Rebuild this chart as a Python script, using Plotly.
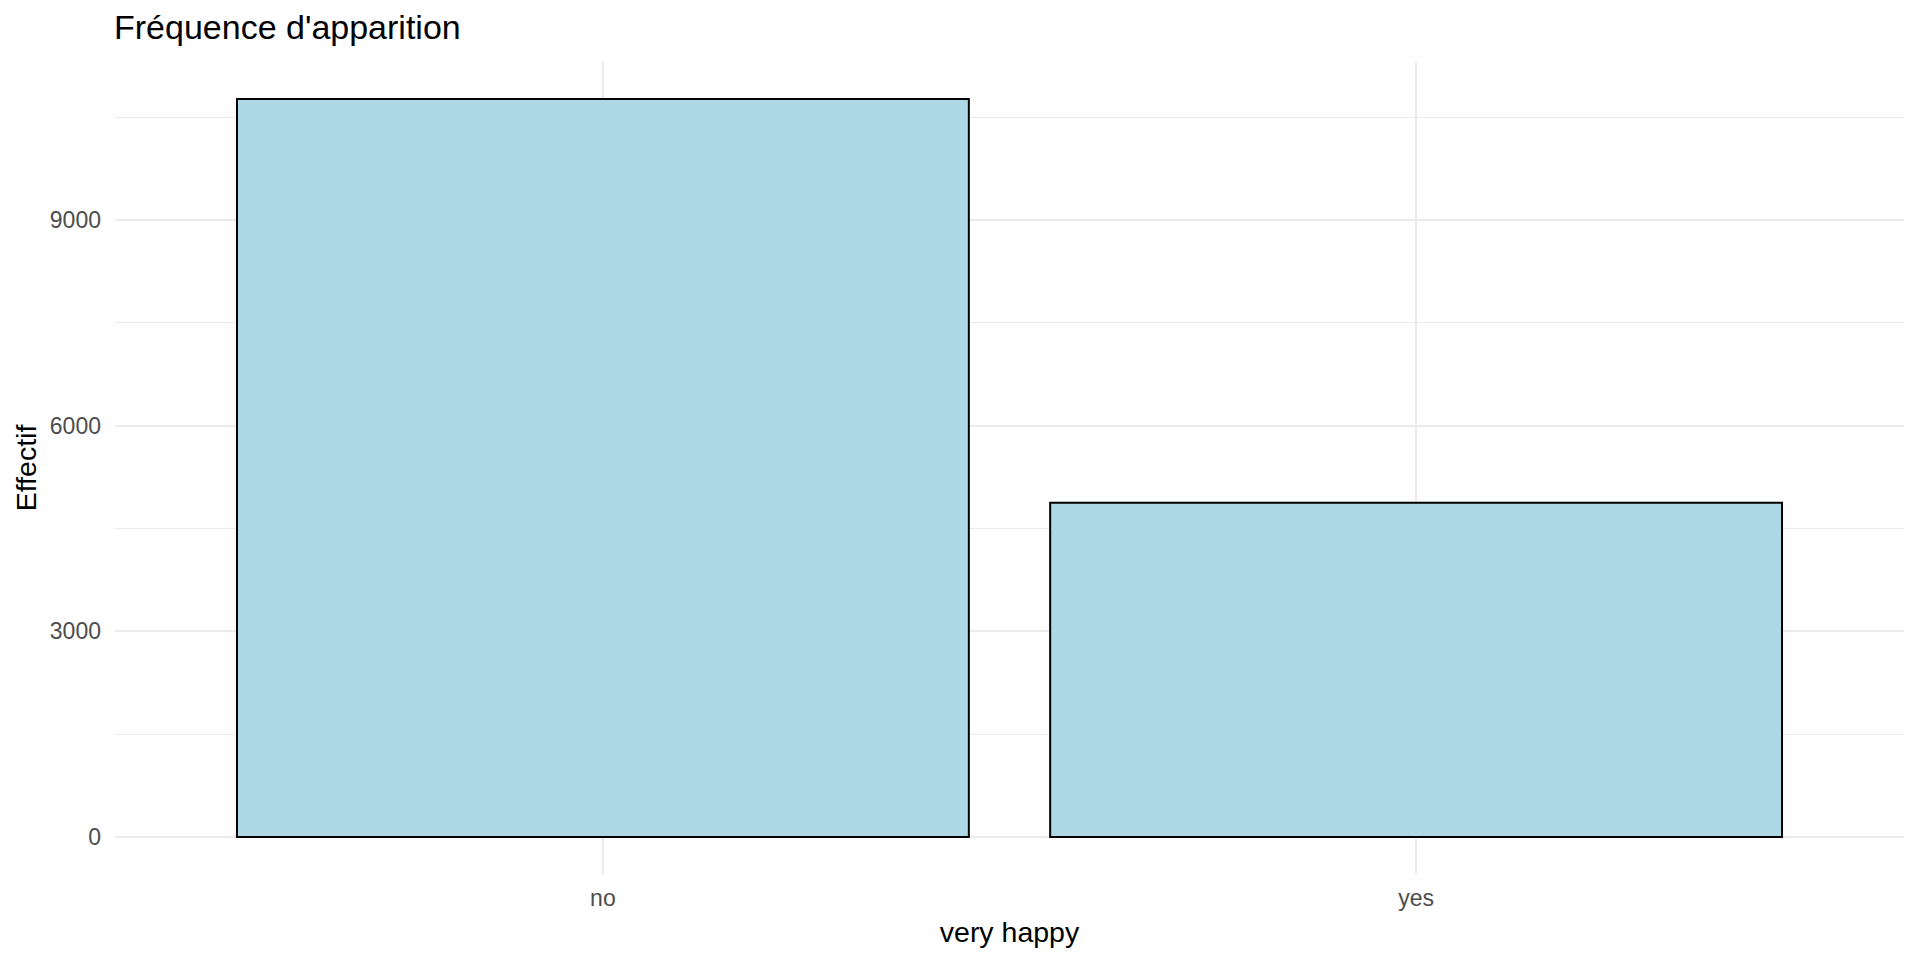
import plotly.graph_objects as go

categories = ["no", "yes"]
counts = [10765, 4874]
y_ticks = [0, 3000, 6000, 9000]
y_tick_labels = ["0", "3000", "6000", "9000"]

# The page body has an 8px margin, so the figure is sized to fit the viewport.
W, H = 1912, 952
FONT = "Liberation Sans, Arial, sans-serif"

ymax = max(counts)
yr = [-0.05 * ymax, 1.05 * ymax]

fig = go.Figure(
    go.Bar(
        x=categories,
        y=counts,
        width=0.9,
        marker=dict(color="#ADD8E6", line=dict(color="black", width=2)),
        hoverinfo="x+y",
    )
)

fig.update_layout(
    width=W,
    height=H,
    paper_bgcolor="white",
    plot_bgcolor="white",
    margin=dict(l=107, r=16, t=54, b=86, autoexpand=False),
    showlegend=False,
    font=dict(family=FONT, color="black"),
    title=dict(
        text="Fréquence d'apparition",
        font=dict(family=FONT, size=34, color="black"),
        xref="container",
        yref="container",
        x=106 / W,
        xanchor="left",
        y=1 - 19 / H,
        yanchor="middle",
    ),
)

fig.update_xaxes(
    type="category",
    range=[-0.6, 1.6],
    showgrid=True,
    gridcolor="#EBEBEB",
    gridwidth=2,
    showline=False,
    zeroline=False,
    ticks="",
    ticklabelstandoff=8,
    tickfont=dict(family=FONT, size=23, color="#4D4D4D"),
    title=dict(text="very happy", font=dict(family=FONT, size=28.5, color="black"), standoff=12),
)

fig.update_yaxes(
    range=yr,
    tickvals=y_ticks,
    ticktext=y_tick_labels,
    showgrid=True,
    gridcolor="#EBEBEB",
    gridwidth=2,
    minor=dict(dtick=1500, tick0=0, showgrid=True, gridcolor="#EBEBEB", gridwidth=1, ticks=""),
    showline=False,
    zeroline=False,
    ticks="",
    ticklabelstandoff=13,
    tickfont=dict(family=FONT, size=23, color="#4D4D4D"),
    title=dict(text="Effectif", font=dict(family=FONT, size=28.5, color="black"), standoff=4),
)

fig.write_html("out.html")
